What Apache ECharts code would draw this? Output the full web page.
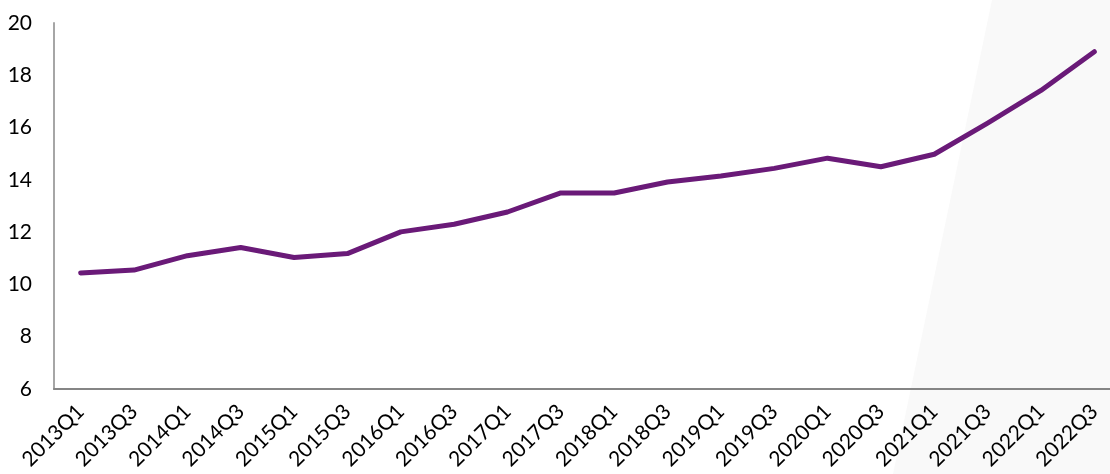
<!DOCTYPE html>
<html>
<head>
<meta charset="utf-8">
<script src="https://cdn.jsdelivr.net/npm/echarts@6/dist/echarts.min.js"></script>
<style>html,body{margin:0;padding:0;background:#fff;}#c{width:1110px;height:474px;}</style>
</head>
<body>
<div id="c"></div>
<script>
const categories = ["2013Q1","2013Q3","2014Q1","2014Q3","2015Q1","2015Q3","2016Q1","2016Q3","2017Q1","2017Q3","2018Q1","2018Q3","2019Q1","2019Q3","2020Q1","2020Q3","2021Q1","2021Q3","2022Q1","2022Q3"];
const values = [10.44,10.55,11.1,11.41,11.03,11.18,12.01,12.3,12.77,13.5,13.5,13.92,14.15,14.44,14.83,14.5,14.98,16.17,17.42,18.9];
const yTicks = {min:6, max:20, interval:2};

const chart = echarts.init(document.getElementById('c'), null, {renderer:'canvas'});
chart.setOption({
  animation:false,
  backgroundColor:'#ffffff',
  graphic:[{
    type:'polygon', silent:true, z:-10,
    shape:{points:[[992,0],[1110,0],[1110,474],[893,474]]},
    style:{fill:'#f9f9f9'}
  }],
  grid:{left:54, right:-11, top:23, bottom:85, containLabel:false, outerBoundsMode:'none'},
  xAxis:{
    type:'category', data:categories, boundaryGap:true,
    axisLine:{lineStyle:{color:'#858585', width:2}},
    axisTick:{show:false},
    axisLabel:{rotate:45, interval:0, margin:19, color:'#000', fontSize:21, fontFamily:'Lato, "Open Sans", sans-serif', hideOverlap:false}
  },
  yAxis:{
    type:'value', min:yTicks.min, max:yTicks.max, interval:yTicks.interval,
    axisLine:{show:true, lineStyle:{color:'#a6a6a6', width:2}},
    axisTick:{show:false},
    splitLine:{show:false},
    axisLabel:{margin:22, color:'#000', fontSize:21, fontFamily:'Lato, "Open Sans", sans-serif'}
  },
  series:[{
    type:'line', data:values, symbol:'none',
    lineStyle:{color:'#6a1a78', width:5, cap:'round', join:'round'}
  }]
});
</script>
</body>
</html>
